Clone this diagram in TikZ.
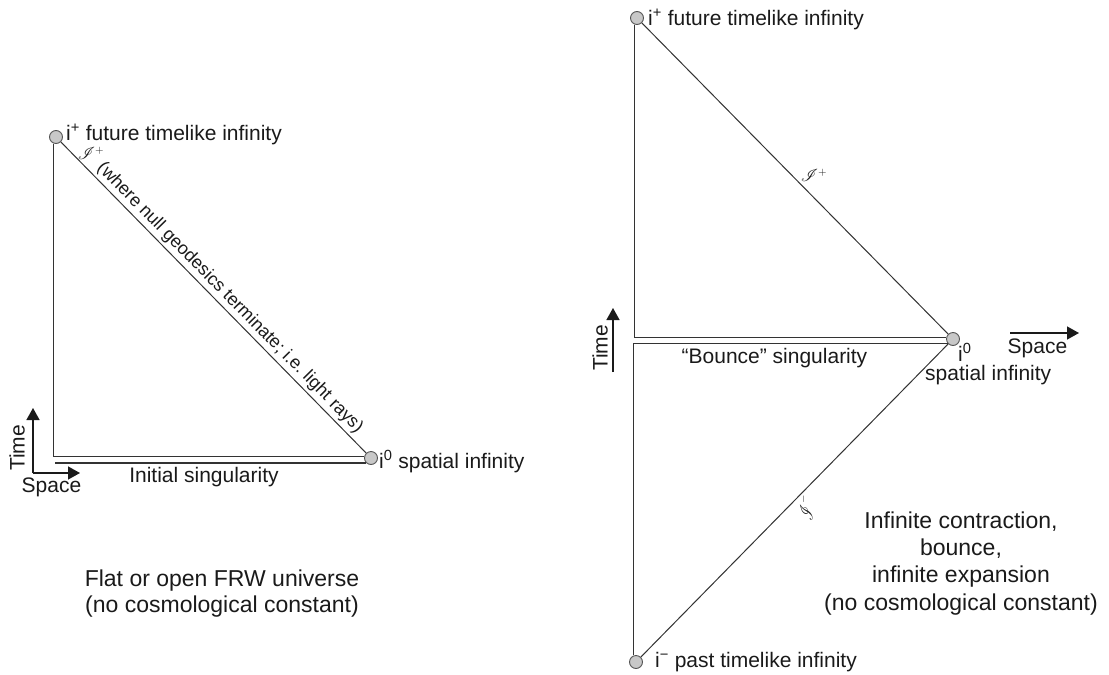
\documentclass[tikz,border=0pt]{standalone}
\usepackage{fontspec}
\setmainfont{Liberation Sans}
\usepackage{mathrsfs}
\usetikzlibrary{arrows.meta,calc}
\definecolor{ink}{HTML}{1A1A1A}
\definecolor{wire}{HTML}{333333}
\definecolor{dotfill}{HTML}{C8C8C8}
\definecolor{dotrim}{HTML}{555555}
\newcommand{\supi}[1]{i\textsuperscript{#1}}
\begin{document}
\begin{tikzpicture}[x=1pt,y=-1pt,
  infdot/.style={circle,draw=dotrim,fill=dotfill,line width=0.9pt,minimum size=13pt,inner sep=0pt},
  wall/.style={draw=wire,line width=1.4pt},
  ray/.style={draw=wire,line width=1pt},
  axis/.style={draw=ink,line width=1.4pt,-{Triangle[length=12pt,width=13pt]}},
  lbl/.style={text=ink,inner sep=0pt,font=\fontsize{21}{25}\selectfont},
  captxt/.style={text=ink,inner sep=0pt,font=\fontsize{23}{27}\selectfont},
  notetxt/.style={text=ink,inner sep=0pt,font=\fontsize{18}{22}\selectfont},
  scri/.style={text=ink,inner sep=0pt,font=\fontsize{16}{20}\selectfont}]
\useasboundingbox (0,0) rectangle (1109,675);

% ---------- flat / open FRW universe ----------
\node[infdot] (Lip) at (56,137) {};
\node[infdot] (Li0) at (371,458) {};
\draw[wall] (Lip.250) |- (Li0.165);
\draw[wall] ($(Lip.250 |- Li0.228)+(1.5,0)$) -- (Li0.228);
\draw[ray] (Lip) -- (Li0);

\node[lbl,anchor=base west] (LipT) at (66,140) {\supi{+} future timelike infinity};
\node[lbl,anchor=base west] (Li0T) at (379,468) {\supi{0} spatial infinity};
\node[lbl,anchor=base] (Lsing) at (204,482) {Initial singularity};
\node[scri] (Lscri) at (91,153) {$\mathscr{I}^{+}$};
\node[notetxt,rotate=-45.5] (Lnote) at (230,298) {(where null geodesics terminate; i.e.\ light rays)};

\coordinate (LO) at (33,473);
\coordinate (LT) at (33,408);
\coordinate (LS) at (80,473);
\draw[axis] (LO) -- (LT);
\draw[axis] (LO) -- (LS);
\node[lbl,rotate=90] (LtimeT) at (17,448) {Time};
\node[lbl,anchor=base] (LspaceT) at (51.5,492) {Space};

\node[captxt,anchor=base] (Lcap1) at (222,586) {Flat or open FRW universe};
\node[captxt,anchor=base] (Lcap2) at (222,612) {(no cosmological constant)};

% ---------- bouncing universe ----------
\node[infdot] (RIp) at (637,18) {};
\node[infdot] (Ri0) at (953,339) {};
\node[infdot] (RIm) at (636,662) {};
\draw[wall] (RIp.250) |- (Ri0.165);
\draw[wall] (RIm.110) |- (Ri0.220);
\draw[ray] (RIp) -- (Ri0);
\draw[ray] (Ri0) -- (RIm);

\node[lbl,anchor=base west] (RIpT) at (648,25) {\supi{+} future timelike infinity};
\node[lbl,anchor=base west] (RImT) at (655,667) {\supi{−} past timelike infinity};
\node[lbl,anchor=base west] (Ri0T) at (958,361) {\supi{0}};
\node[lbl,anchor=base west] (Ri0T2) at (925,380) {spatial infinity};
\node[lbl,anchor=base] (Rsing) at (774.5,363) {“Bounce” singularity};
\node[scri] (Rscrip) at (814,175) {$\mathscr{I}^{+}$};
\node[scri,rotate=90] (Rscrim) at (806,508) {$\mathscr{I}^{-}$};

\coordinate (RtB) at (613,372);
\coordinate (RtT) at (613,308);
\coordinate (RsA) at (1010,333);
\coordinate (RsB) at (1079,333);
\draw[axis] (RtB) -- (RtT);
\draw[axis] (RsA) -- (RsB);
\node[lbl,rotate=90] (RtimeT) at (600,348) {Time};
\node[lbl,anchor=base] (RspaceT) at (1037.5,353) {Space};

\node[captxt,anchor=base] (Rcap1) at (961,528) {Infinite contraction,};
\node[captxt,anchor=base] (Rcap2) at (961,555) {bounce,};
\node[captxt,anchor=base] (Rcap3) at (961,582) {infinite expansion};
\node[captxt,anchor=base] (Rcap4) at (961,610) {(no cosmological constant)};
\end{tikzpicture}
\end{document}
